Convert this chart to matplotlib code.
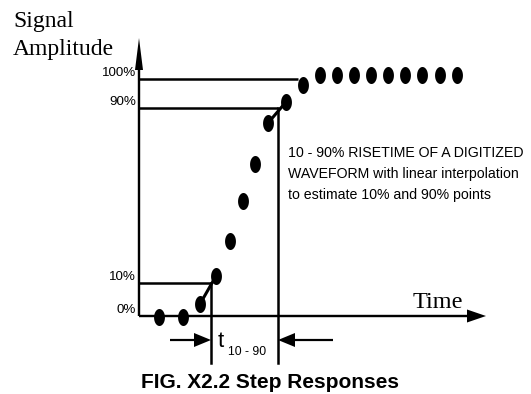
import matplotlib
matplotlib.use('Agg')
import matplotlib.pyplot as plt
import numpy as np
from matplotlib.path import Path

# Digitized waveform samples (schematic units, time -> right, amplitude -> up)
sample_t = [159, 183, 200, 216, 230, 243, 255, 268, 286, 303,
            320, 337, 354, 371, 388, 405, 422, 440, 457]
sample_amp = [77, 77, 90, 118, 153, 193, 230, 271, 292, 309,
              319, 319, 319, 319, 319, 319, 319, 319, 319]

# Reference levels
level_labels = ['0%', '10%', '90%', '100%']
level_amp = [78, 111, 286, 315]

# Interpolated crossing times and the level line extents
t10, t90 = 211, 278
level_line_end = [None, t10, t90, 298]

axis_x0 = 139
time_axis_end = 486
amp_axis_end = 356
drop_y = 31
meas_y = 54

SERIF = ['Liberation Serif', 'DejaVu Serif']
SANS = ['Liberation Sans', 'DejaVu Sans']


def main():
    fig = plt.figure(figsize=(5.31, 3.94), dpi=100)
    ax = fig.add_axes([0, 0, 1, 1])
    ax.set_xlim(0, 531)
    ax.set_ylim(0, 394)
    ax.axis('off')

    lw = 1.8
    # Amplitude axis with arrow
    ax.arrow(axis_x0, level_amp[0], 0, amp_axis_end - level_amp[0], width=2.4,
             head_width=8, head_length=32, length_includes_head=True,
             color='black', lw=0)
    # Time axis with arrow
    ax.arrow(axis_x0, level_amp[0], time_axis_end - axis_x0, 0, width=2.4,
             head_width=13, head_length=19, length_includes_head=True,
             color='black', lw=0)

    # Level lines
    for amp, end in zip(level_amp[1:], level_line_end[1:]):
        ax.plot([axis_x0, end], [amp, amp], color='black', lw=lw,
                solid_capstyle='butt')

    # Level labels
    for lab, amp in zip(level_labels, level_amp):
        ax.text(axis_x0 - 3, amp + 6, lab, ha='right', va='center',
                fontsize=9.6, family=SANS)

    # Vertical drops at 10% and 90% crossings
    ax.plot([t10, t10], [level_amp[1], drop_y], color='black', lw=lw)
    ax.plot([t90, t90], [level_amp[2], drop_y], color='black', lw=lw)

    # Linear interpolation segments
    ax.plot(sample_t[2:4], sample_amp[2:4], color='black', lw=2.2)
    ax.plot(sample_t[7:9], sample_amp[7:9], color='black', lw=2.2)

    # Sample points as tall ellipses
    th = np.linspace(0, 2 * np.pi, 60)
    ell = Path(np.column_stack([0.64 * np.cos(th), np.sin(th)]), closed=True)
    ax.scatter(sample_t, sample_amp, marker=ell, s=150, color='black',
               zorder=5, linewidths=0)

    # Rise time measurement arrows
    ax.arrow(170, meas_y, t10 - 170, 0, width=2.2, head_width=14,
             head_length=17, length_includes_head=True, color='black', lw=0)
    ax.arrow(333, meas_y, t90 - 333, 0, width=2.2, head_width=14,
             head_length=17, length_includes_head=True, color='black', lw=0)
    ax.text(218, 47, 't', fontsize=16, family=SANS, ha='left',
            va='baseline')
    ax.text(228, 39, '10 - 90', fontsize=8.8, family=SANS, ha='left',
            va='baseline')

    # Axis titles
    ax.text(13, 367, 'Signal', fontsize=17, family=SERIF, va='baseline')
    ax.text(13, 339, 'Amplitude', fontsize=17, family=SERIF,
            va='baseline')
    ax.text(413, 86, 'Time', fontsize=17.5, family=SERIF, va='baseline')

    # Description
    desc = ['10 - 90% RISETIME OF A DIGITIZED',
            'WAVEFORM with linear interpolation',
            'to estimate 10% and 90% points']
    for i, line in enumerate(desc):
        ax.text(288, 394 - 153 - 21 * i, line, fontsize=10.2, family=SANS,
                va='center', ha='left')

    # Figure caption
    ax.text(270, 394 - 383, 'FIG. X2.2 Step Responses', fontsize=15,
            fontweight='bold', family=SANS, ha='center', va='center')

    fig.savefig('out.png', dpi=100)


if __name__ == '__main__':
    main()
